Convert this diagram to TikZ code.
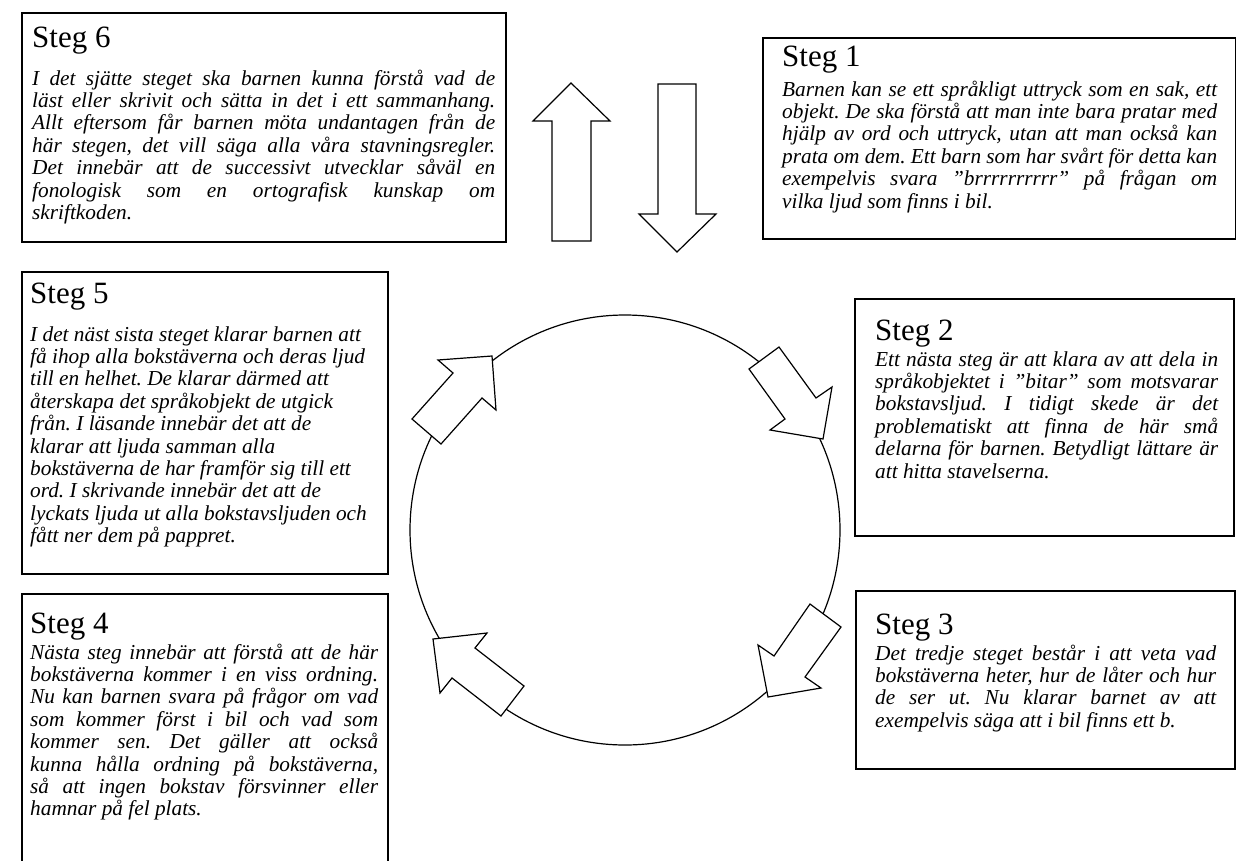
\documentclass[tikz,border=0pt]{standalone}
\usepackage{fontspec}
\setmainfont{Liberation Serif}
\frenchspacing
\newcommand\jl[1]{\hbox to \linewidth{#1}}
\newcommand\lastl[1]{\hbox{#1}}
\begin{document}
\begin{tikzpicture}[x=1pt,y=-1pt,
  stepframe/.style={draw=black, line width=1.8pt, fill=white, anchor=north west, inner sep=0pt},
  steptitle/.style={anchor=base west, inner sep=0pt, font=\fontsize{31}{31}\selectfont},
  stepbody/.style={anchor=base west, inner sep=0pt, font=\fontsize{21.3}{22.4}\selectfont\itshape\frenchspacing},
  blockarrow/.style={draw=black, fill=white, line width=1.2pt, line join=miter}]
\useasboundingbox (0,0) rectangle (1236,860);
\clip (0,0) rectangle (1236,860);

% ring
\node[draw=black, line width=1.2pt, circle, minimum size=430pt, inner sep=0pt] (ring) at (625,530) {};

% frames
\node[stepframe, minimum width=484pt, minimum height=229pt] (f6) at (21,12) {};
\node[stepframe, minimum width=473pt, minimum height=201pt] (f1) at (762,37) {};
\node[stepframe, minimum width=379pt, minimum height=237pt] (f2) at (854,298) {};
\node[stepframe, minimum width=379pt, minimum height=178pt] (f3) at (855,590) {};
\node[stepframe, minimum width=366pt, minimum height=302pt] (f5) at (21,271) {};
\node[stepframe, minimum width=366pt, minimum height=300pt] (f4) at (21,593) {};

% Steg 6
\node[steptitle] (h6) at (32,47) {Steg 6};
\node[stepbody] (t6) at (32,85) {\parbox[t]{463pt}{%
\jl{I det sjätte steget ska barnen kunna förstå vad de}
\jl{läst eller skrivit och sätta in det i ett sammanhang.}
\jl{Allt eftersom får barnen möta undantagen från de}
\jl{här stegen, det vill säga alla våra stavningsregler.}
\jl{Det innebär att de successivt utvecklar såväl en}
\jl{fonologisk som en ortografisk kunskap om}
\lastl{skriftkoden.}}};

% Steg 1
\node[steptitle] (h1) at (782,66) {Steg 1};
\node[stepbody] (t1) at (782,96) {\parbox[t]{435pt}{%
\jl{Barnen kan se ett språkligt uttryck som en sak, ett}
\jl{objekt. De ska förstå att man inte bara pratar med}
\jl{hjälp av ord och uttryck, utan att man också kan}
\jl{prata om dem. Ett barn som har svårt för detta kan}
\jl{exempelvis svara ”brrrrrrrrrr” på frågan om}
\lastl{vilka ljud som finns i bil.}}};

% Steg 2
\node[steptitle] (h2) at (875,340) {Steg 2};
\node[stepbody] (t2) at (875,366) {\parbox[t]{343pt}{%
\jl{Ett nästa steg är att klara av att dela in}
\jl{språkobjektet i ”bitar” som motsvarar}
\jl{bokstavsljud. I tidigt skede är det}
\jl{problematiskt att finna de här små}
\jl{delarna för barnen. Betydligt lättare är}
\lastl{att hitta stavelserna.}}};

% Steg 3
\node[steptitle] (h3) at (875,634) {Steg 3};
\node[stepbody] (t3) at (875,660) {\parbox[t]{341pt}{%
\jl{Det tredje steget består i att veta vad}
\jl{bokstäverna heter, hur de låter och hur}
\jl{de ser ut. Nu klarar barnet av att}
\lastl{exempelvis säga att i bil finns ett b.}}};

% Steg 4
\node[steptitle] (h4) at (30,633) {Steg 4};
\node[stepbody] (t4) at (30,659) {\parbox[t]{348pt}{%
\jl{Nästa steg innebär att förstå att de här}
\jl{bokstäverna kommer i en viss ordning.}
\jl{Nu kan barnen svara på frågor om vad}
\jl{som kommer först i bil och vad som}
\jl{kommer sen. Det gäller att också}
\jl{kunna hålla ordning på bokstäverna,}
\jl{så att ingen bokstav försvinner eller}
\lastl{hamnar på fel plats.}}};

% Steg 5
\node[steptitle] (h5) at (30,303) {Steg 5};
\node[stepbody] (t5) at (30,341) {\parbox[t]{348pt}{%
\lastl{I det näst sista steget klarar barnen att}
\lastl{få ihop alla bokstäverna och deras ljud}
\lastl{till en helhet. De klarar därmed att}
\lastl{återskapa det språkobjekt de utgick}
\lastl{från. I läsande innebär det att de}
\lastl{klarar att ljuda samman alla}
\lastl{bokstäverna de har framför sig till ett}
\lastl{ord. I skrivande innebär det att de}
\lastl{lyckats ljuda ut alla bokstavsljuden och}
\lastl{fått ner dem på pappret.}}};

% top arrows
\draw[blockarrow] (552,241) -- (552,121) -- (533,121) -- (571,83) -- (610,121) -- (591,121) -- (591,241) -- cycle;
\draw[blockarrow] (658,84) -- (696,84) -- (696,214) -- (716,214) -- (677,252) -- (639,214) -- (658,214) -- cycle;

% arrows on the ring
\draw[blockarrow] (749,369) -- (779,347) -- (816,398) -- (832,387) -- (823,439) -- (770,430) -- (785,419) -- cycle;
\draw[blockarrow] (810,604) -- (841,627) -- (805,677) -- (821,688) -- (768,697) -- (758,645) -- (774,656) -- cycle;
\draw[blockarrow] (524,686) -- (501,716) -- (452,678) -- (440,693) -- (433,639) -- (487,633) -- (475,648) -- cycle;
\draw[blockarrow] (412,419) -- (441,444) -- (482,398) -- (496,410) -- (492,356) -- (438,360) -- (453,373) -- cycle;
\end{tikzpicture}
\end{document}
